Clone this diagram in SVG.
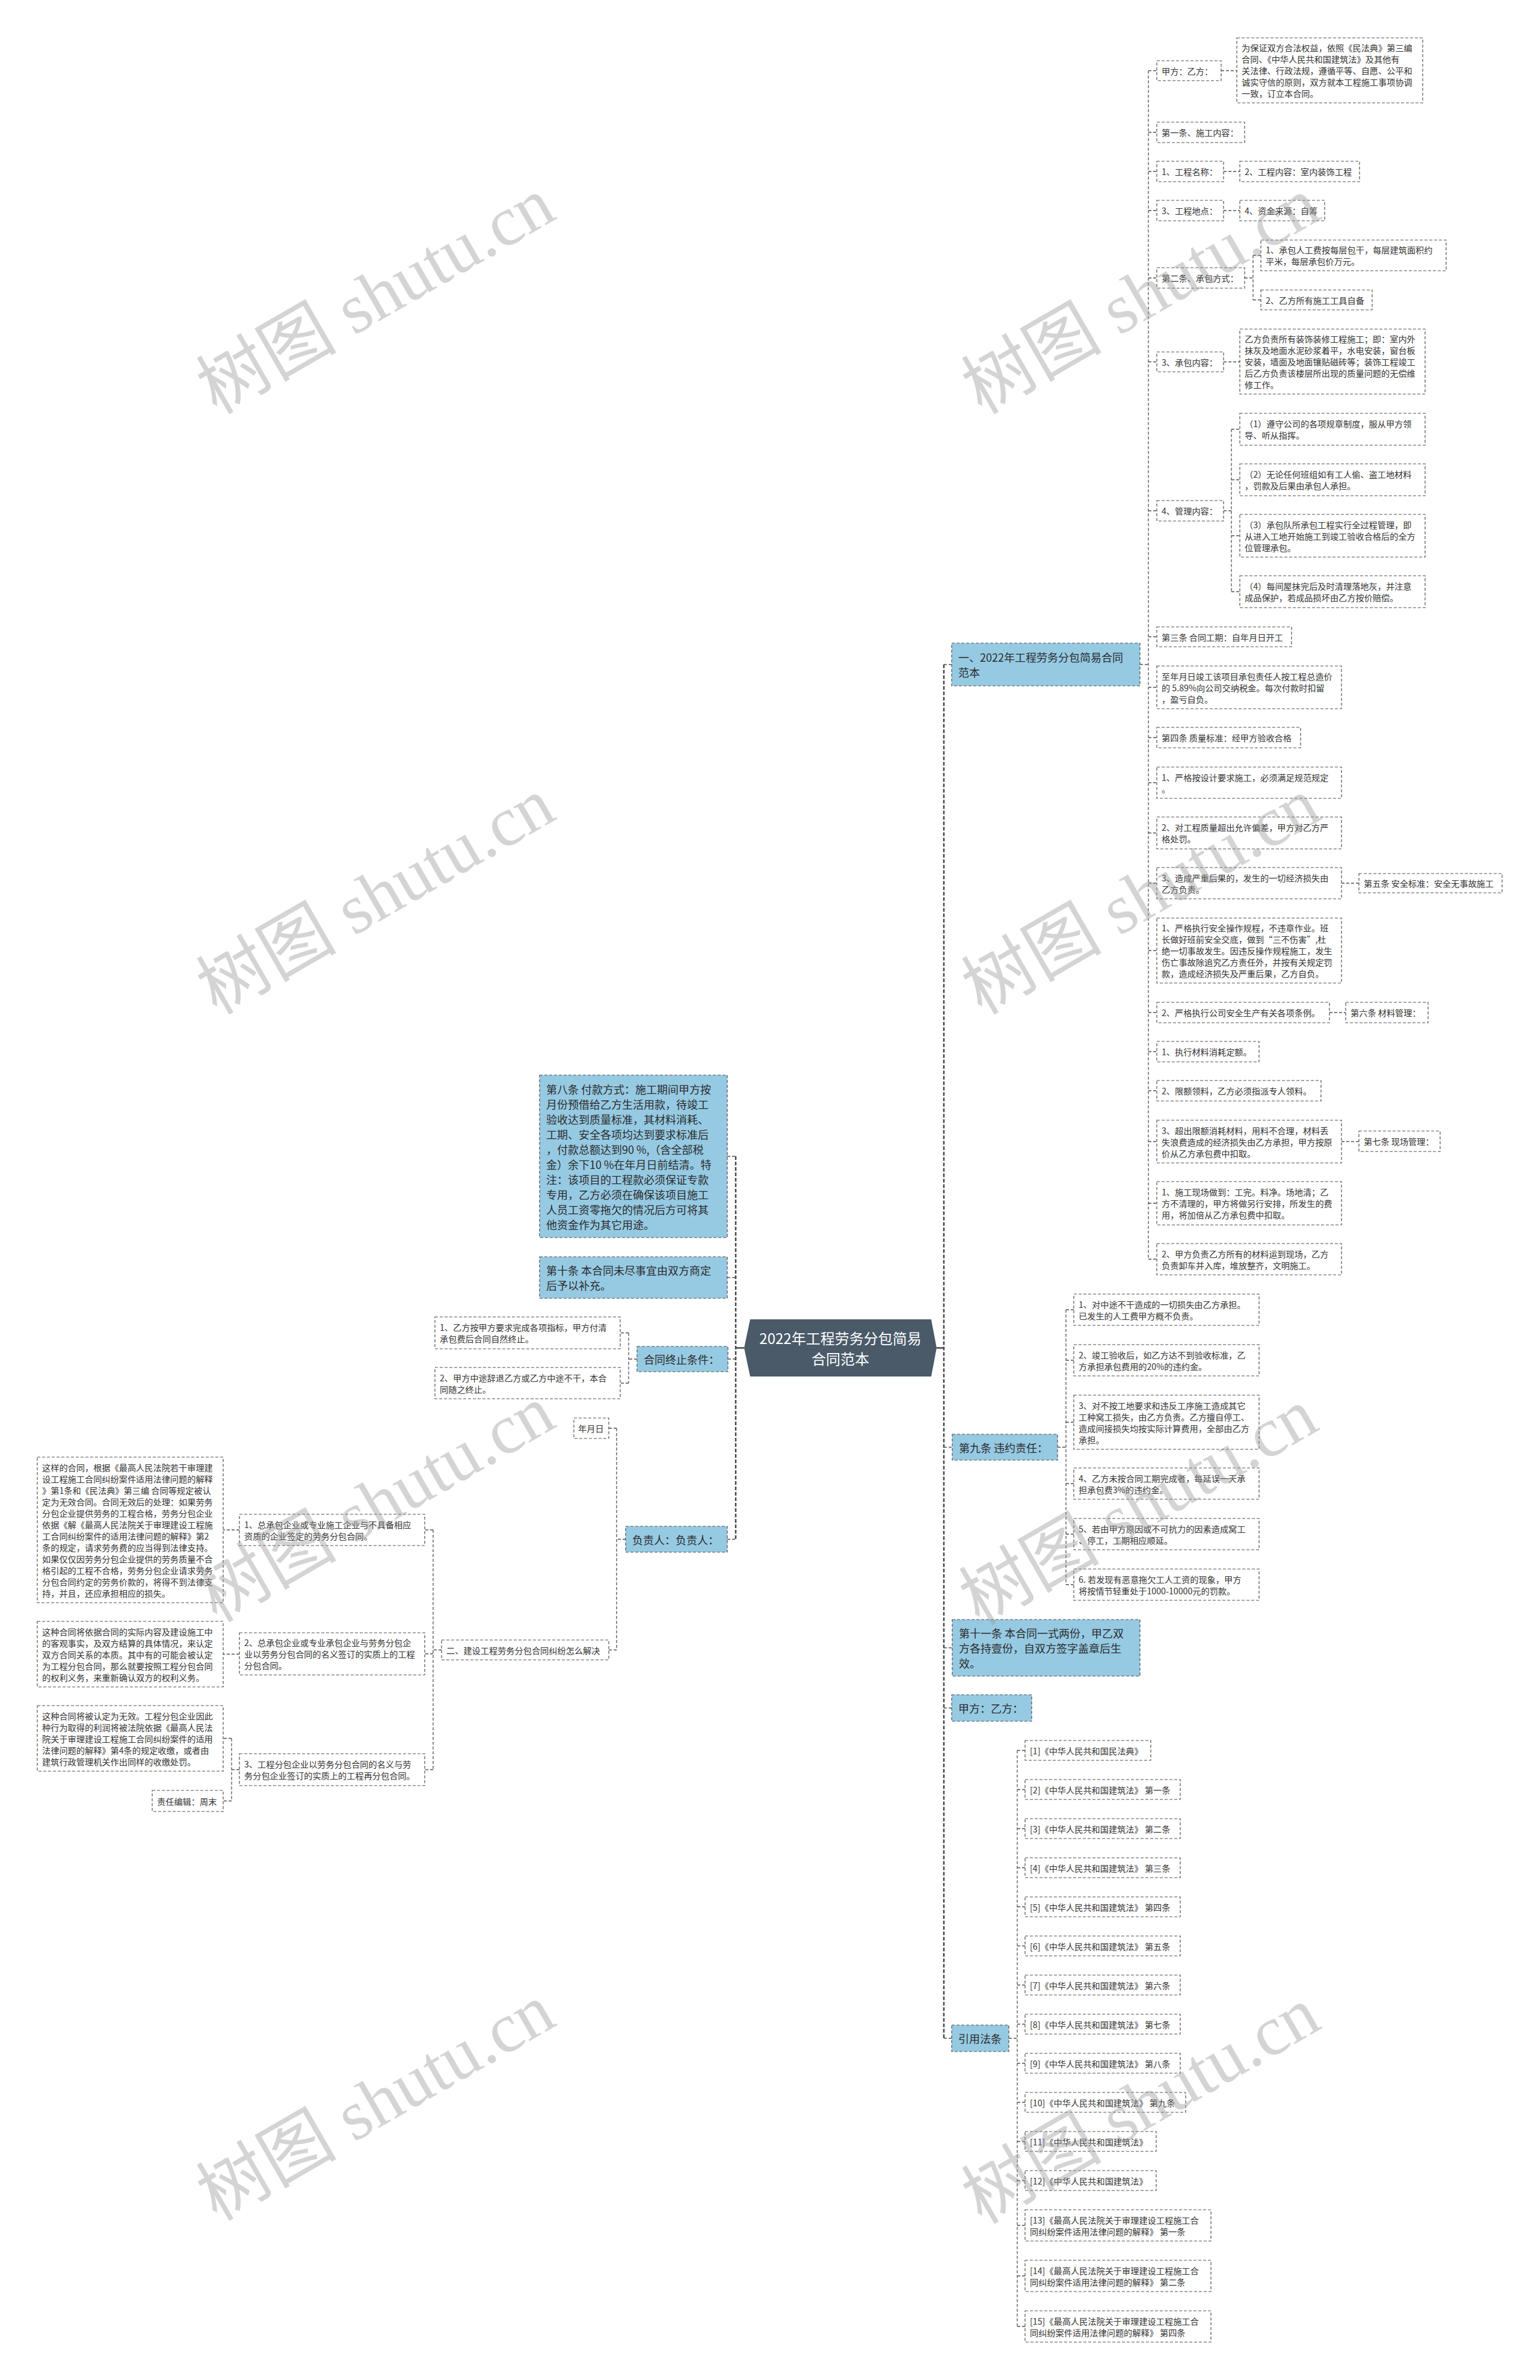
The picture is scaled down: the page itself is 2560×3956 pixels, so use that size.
<svg xmlns="http://www.w3.org/2000/svg" width="2560" height="3956" viewBox="0 0 2560 3956">
<style>
.n{fill:#fff;stroke:#505050;stroke-width:1.2;stroke-dasharray:5 3}
.b{fill:#96cae3;stroke:#505050;stroke-width:1.2;stroke-dasharray:5 3}
.t{font-family:"Noto Sans CJK SC","Liberation Sans",sans-serif;font-size:14.2px;fill:#333;dominant-baseline:central}
.tb{font-family:"Noto Sans CJK SC","Liberation Sans",sans-serif;font-size:18px;fill:#2b2b2b;dominant-baseline:central}
.tc{font-family:"Noto Sans CJK SC","Liberation Sans",sans-serif;font-size:24px;fill:#fff;dominant-baseline:central;text-anchor:middle}
.c{fill:none;stroke:#505050;stroke-width:1.3;stroke-dasharray:5 3}
.s{fill:none;stroke:#444;stroke-width:2.5;stroke-dasharray:6 3}
.solid{fill:none;stroke:#444;stroke-width:2.5}
.w{font-family:"Liberation Serif","Noto Sans CJK SC",serif;font-size:117px;fill:#9a9a9a;opacity:0.42}
</style>
<rect width="2560" height="3956" fill="#fff"/>

<g id="connectors">
<path class="c" d="M1909 117.5V2093"/>
<path class="c" d="M1895 1104.5H1909M1909 117.5H1923M1909 220H1923M1909 285H1923M1909 350H1923M1909 462H1923M1909 601.5H1923M1909 849H1923M1909 1058.5H1923M1909 1142.5H1923M1909 1226H1923M1909 1301H1923M1909 1384.5H1923M1909 1468H1923M1909 1580H1923M1909 1683H1923M1909 1748H1923M1909 1813H1923M1909 1897.5H1923M1909 2000H1923M1909 2093H1923"/>
<path class="c" d="M2030 117.5H2056M2034 285H2061M2034 350H2061M2034 601.5H2061"/>
<path class="c" d="M2069 462H2083M2083 424.5V498.5M2083 424.5H2096M2083 498.5H2096"/>
<path class="c" d="M2034 849H2047M2047 713.5V983.5M2047 713.5H2061M2047 797.5H2061M2047 890.5H2061M2047 983.5H2061"/>
<path class="c" d="M2230 1468H2259M2210 1683H2237M2230 1897.5H2259"/>
<path class="s" d="M1569 1104.5V3388"/>
<path class="c" d="M1569 1104.5H1582M1569 2405.5H1583M1569 2739H1583M1569 2839H1582M1569 3388H1582"/>
<path class="solid" d="M1557 2240.5H1569"/>
<path class="c" d="M1758 2405.5H1772M1772 2177V2634M1772 2177H1785M1772 2261H1785M1772 2364H1785M1772 2466H1785M1772 2550H1785M1772 2634H1785"/>
<path class="c" d="M1677 3388H1691M1691 2909.5V3867M1691 2909.5H1704M1691 2974.5H1704M1691 3039.5H1704M1691 3104.5H1704M1691 3169.5H1704M1691 3234.5H1704M1691 3299.5H1704M1691 3364.5H1704M1691 3429.5H1704M1691 3494.5H1704M1691 3559.5H1704M1691 3624.5H1704M1691 3699H1704M1691 3783H1704M1691 3867H1704"/>
<path class="s" d="M1223 1922V2558.5"/>
<path class="c" d="M1209 1922H1223M1209 2123.5H1223M1210 2259H1223M1209 2558.5H1223"/>
<path class="solid" d="M1237 2240.5H1223"/>
<path class="c" d="M1059 2259H1045M1045 2215.5V2299M1045 2215.5H1031M1045 2299H1031"/>
<path class="c" d="M1040 2558.5H1025M1025 2374V2742.5M1025 2374H1012M1025 2742.5H1012"/>
<path class="c" d="M734 2742.5H720M720 2543V2941.5M720 2543H706M720 2749H706M720 2941.5H706"/>
<path class="c" d="M398 2543H371M398 2749.5H371"/>
<path class="c" d="M398 2941.5H385M385 2889.5V2993.5M385 2889.5H371M385 2993.5H371"/>
</g>

<g id="center">
<polygon points="1247,2193 1548,2193 1557,2240.5 1548,2288 1247,2288 1237,2240.5" fill="#4a5a69"/>
<text class="tc" x="1397" y="2223.5">2022年工程劳务分包简易</text>
<text class="tc" x="1397" y="2257.5">合同范本</text>
</g>

<g id="b1"><rect class="b" x="1582" y="1069" width="313" height="71"/>
<text class="tb" x="1593" y="1092">一、2022年工程劳务分包简易合同</text><text class="tb" x="1593" y="1117">范本</text></g>

<g id="n_a"><rect class="n" x="1923" y="101" width="107" height="33"/><text class="t" x="1931" y="117.5">甲方：乙方：</text></g>
<g id="n_b"><rect class="n" x="2056" y="63" width="309" height="108"/>
<text class="t" x="2064" y="79">为保证双方合法权益，依照《民法典》第三编</text>
<text class="t" x="2064" y="98"> 合同、《中华人民共和国建筑法》及其他有</text>
<text class="t" x="2064" y="117">关法律、行政法规，遵循平等、自愿、公平和</text>
<text class="t" x="2064" y="136">诚实守信的原则，双方就本工程施工事项协调</text>
<text class="t" x="2064" y="155">一致，订立本合同。</text></g>
<g id="n_c"><rect class="n" x="1923" y="203" width="146" height="34"/><text class="t" x="1931" y="220">第一条、施工内容：</text></g>
<g id="n_d"><rect class="n" x="1923" y="268" width="111" height="34"/><text class="t" x="1931" y="285">1、工程名称：</text></g>
<g id="n_e"><rect class="n" x="2061" y="268" width="199" height="34"/><text class="t" x="2069" y="285">2、工程内容：室内装饰工程</text></g>
<g id="n_f"><rect class="n" x="1923" y="333" width="111" height="34"/><text class="t" x="1931" y="350">3、工程地点：</text></g>
<g id="n_g"><rect class="n" x="2061" y="333" width="141" height="34"/><text class="t" x="2069" y="350">4、资金来源：自筹</text></g>
<g id="n_h"><rect class="n" x="1923" y="445" width="146" height="34"/><text class="t" x="1931" y="462">第二条、承包方式：</text></g>
<g id="n_i"><rect class="n" x="2096" y="399" width="308" height="51"/>
<text class="t" x="2104" y="415">1、承包人工费按每层包干，每层建筑面积约</text><text class="t" x="2104" y="434">平米，每层承包价万元。</text></g>
<g id="n_j"><rect class="n" x="2096" y="482" width="185" height="33"/><text class="t" x="2104" y="498.5">2、乙方所有施工工具自备</text></g>
<g id="n_k"><rect class="n" x="1923" y="585" width="111" height="33"/><text class="t" x="1931" y="601.5">3、承包内容：</text></g>
<g id="n_l"><rect class="n" x="2061" y="547" width="308" height="108"/>
<text class="t" x="2069" y="563">乙方负责所有装饰装修工程施工；即：室内外</text>
<text class="t" x="2069" y="582">抹灰及地面水泥砂浆着平，水电安装，窗台板</text>
<text class="t" x="2069" y="601">安装，墙面及地面镶贴磁砖等；装饰工程竣工</text>
<text class="t" x="2069" y="620">后乙方负责该楼层所出现的质量问题的无偿维</text>
<text class="t" x="2069" y="639">修工作。</text></g>
<g id="n_m"><rect class="n" x="1923" y="832" width="111" height="34"/><text class="t" x="1931" y="849">4、管理内容：</text></g>
<g id="n_n1"><rect class="n" x="2061" y="687" width="308" height="53"/>
<text class="t" x="2069" y="704">（1）遵守公司的各项规章制度，服从甲方领</text><text class="t" x="2069" y="723">导、听从指挥。</text></g>
<g id="n_n2"><rect class="n" x="2061" y="771" width="308" height="53"/>
<text class="t" x="2069" y="788">（2）无论任何班组如有工人偷、盗工地材料</text><text class="t" x="2069" y="807">，罚款及后果由承包人承担。</text></g>
<g id="n_n3"><rect class="n" x="2061" y="855" width="308" height="71"/>
<text class="t" x="2069" y="871.5">（3）承包队所承包工程实行全过程管理，即</text><text class="t" x="2069" y="890.5">从进入工地开始施工到竣工验收合格后的全方</text><text class="t" x="2069" y="909.5">位管理承包。</text></g>
<g id="n_n4"><rect class="n" x="2061" y="957" width="308" height="53"/>
<text class="t" x="2069" y="974">（4）每间屋抹完后及时清理落地灰，并注意</text><text class="t" x="2069" y="993">成品保护，若成品损坏由乙方按价赔偿。</text></g>
<g id="n_o"><rect class="n" x="1923" y="1042" width="224" height="33"/><text class="t" x="1931" y="1058.5">第三条 合同工期：自年月日开工</text></g>
<g id="n_p"><rect class="n" x="1923" y="1107" width="307" height="71"/>
<text class="t" x="1931" y="1123.5">至年月日竣工该项目承包责任人按工程总造价</text><text class="t" x="1931" y="1142.5">的 5.89%向公司交纳税金。每次付款时扣留</text><text class="t" x="1931" y="1161.5">，盈亏自负。</text></g>
<g id="n_q"><rect class="n" x="1923" y="1209" width="239" height="34"/><text class="t" x="1931" y="1226">第四条 质量标准：经甲方验收合格</text></g>
<g id="n_r"><rect class="n" x="1923" y="1275" width="307" height="52"/>
<text class="t" x="1931" y="1291.5">1、严格按设计要求施工，必须满足规范规定</text><text class="t" x="1931" y="1310.5">。</text></g>
<g id="n_s"><rect class="n" x="1923" y="1358" width="307" height="53"/>
<text class="t" x="1931" y="1375">2、对工程质量超出允许偏差，甲方对乙方严</text><text class="t" x="1931" y="1394">格处罚。</text></g>
<g id="n_t"><rect class="n" x="1923" y="1442" width="307" height="52"/>
<text class="t" x="1931" y="1458.5">3、造成严重后果的，发生的一切经济损失由</text><text class="t" x="1931" y="1477.5">乙方负责。</text></g>
<g id="n_u"><rect class="n" x="2259" y="1452" width="238" height="32"/><text class="t" x="2267" y="1468">第五条 安全标准：安全无事故施工</text></g>
<g id="n_v"><rect class="n" x="1923" y="1526" width="307" height="108"/>
<text class="t" x="1931" y="1542">1、严格执行安全操作规程，不违章作业。班</text>
<text class="t" x="1931" y="1561">长做好班前安全交底，做到“三不伤害”,杜</text>
<text class="t" x="1931" y="1580">绝一切事故发生。因违反操作规程施工，发生</text>
<text class="t" x="1931" y="1599">伤亡事故除追究乙方责任外，并按有关规定罚</text>
<text class="t" x="1931" y="1618">款，造成经济损失及严重后果，乙方自负。</text></g>
<g id="n_w"><rect class="n" x="1923" y="1666" width="287" height="34"/><text class="t" x="1931" y="1683">2、严格执行公司安全生产有关各项条例。</text></g>
<g id="n_x"><rect class="n" x="2237" y="1666" width="137" height="34"/><text class="t" x="2245" y="1683">第六条 材料管理：</text></g>
<g id="n_y"><rect class="n" x="1923" y="1731" width="170" height="34"/><text class="t" x="1931" y="1748">1、执行材料消耗定额。</text></g>
<g id="n_z"><rect class="n" x="1923" y="1796" width="273" height="34"/><text class="t" x="1931" y="1813">2、限额领料，乙方必须指派专人领料。</text></g>
<g id="n_aa"><rect class="n" x="1923" y="1862" width="307" height="71"/>
<text class="t" x="1931" y="1878.5">3、超出限额消耗材料，用料不合理，材料丢</text><text class="t" x="1931" y="1897.5">失浪费造成的经济损失由乙方承担，甲方按原</text><text class="t" x="1931" y="1916.5">价从乙方承包费中扣取。</text></g>
<g id="n_ab"><rect class="n" x="2259" y="1880" width="135" height="34"/><text class="t" x="2267" y="1897">第七条 现场管理：</text></g>
<g id="n_ac"><rect class="n" x="1923" y="1964" width="307" height="72"/>
<text class="t" x="1931" y="1981">1、施工现场做到：工完。料净。场地清；乙</text><text class="t" x="1931" y="2000">方不清理的，甲方将做另行安排，所发生的费</text><text class="t" x="1931" y="2019">用，将加倍从乙方承包费中扣取。</text></g>
<g id="n_ad"><rect class="n" x="1923" y="2067" width="307" height="52"/>
<text class="t" x="1931" y="2083.5">2、甲方负责乙方所有的材料运到现场，乙方</text><text class="t" x="1931" y="2102.5">负责卸车并入库，堆放整齐，文明施工。</text></g>

<g id="b9"><rect class="b" x="1583" y="2384" width="175" height="43"/><text class="tb" x="1594" y="2405.5">第九条 违约责任：</text></g>
<g id="v1"><rect class="n" x="1785" y="2151" width="308" height="52"/>
<text class="t" x="1793" y="2167.5">1、对中途不干造成的一切损失由乙方承担。</text><text class="t" x="1793" y="2186.5">已发生的人工费甲方概不负责。</text></g>
<g id="v2"><rect class="n" x="1785" y="2235" width="308" height="52"/>
<text class="t" x="1793" y="2251.5">2、竣工验收后，如乙方达不到验收标准，乙</text><text class="t" x="1793" y="2270.5">方承担承包费用的20%的违约金。</text></g>
<g id="v3"><rect class="n" x="1785" y="2319" width="308" height="90"/>
<text class="t" x="1793" y="2335.5">3、对不按工地要求和违反工序施工造成其它</text><text class="t" x="1793" y="2354.5">工种窝工损失，由乙方负责。乙方擅自停工、</text><text class="t" x="1793" y="2373.5">造成间接损失均按实际计算费用，全部由乙方</text><text class="t" x="1793" y="2392.5">承担。</text></g>
<g id="v4"><rect class="n" x="1785" y="2440" width="308" height="52"/>
<text class="t" x="1793" y="2456.5">4、乙方未按合同工期完成者，每延误一天承</text><text class="t" x="1793" y="2475.5">担承包费3%的违约金。</text></g>
<g id="v5"><rect class="n" x="1785" y="2524" width="308" height="52"/>
<text class="t" x="1793" y="2540.5">5、若由甲方原因或不可抗力的因素造成窝工</text><text class="t" x="1793" y="2559.5">、停工，工期相应顺延。</text></g>
<g id="v6"><rect class="n" x="1785" y="2608" width="308" height="52"/>
<text class="t" x="1793" y="2624.5">6. 若发现有恶意拖欠工人工资的现象，甲方</text><text class="t" x="1793" y="2643.5">将按情节轻重处于1000-10000元的罚款。</text></g>

<g id="b11"><rect class="b" x="1583" y="2692" width="312" height="94"/>
<text class="tb" x="1594" y="2714">第十一条 本合同一式两份，甲乙双</text><text class="tb" x="1594" y="2739">方各持壹份，自双方签字盖章后生</text><text class="tb" x="1594" y="2764">效。</text></g>
<g id="bjy"><rect class="b" x="1582" y="2817" width="133" height="44"/><text class="tb" x="1593" y="2839">甲方：乙方：</text></g>
<g id="blaw"><rect class="b" x="1582" y="3366" width="95" height="44"/><text class="tb" x="1593" y="3388">引用法条</text></g>

<g id="law1"><rect class="n" x="1704" y="2893" width="209" height="33"/><text class="t" x="1712" y="2909.5">[1]《中华人民共和国民法典》</text></g>
<g id="law2"><rect class="n" x="1704" y="2958" width="258" height="33"/><text class="t" x="1712" y="2974.5">[2]《中华人民共和国建筑法》 第一条</text></g>
<g id="law3"><rect class="n" x="1704" y="3023" width="258" height="33"/><text class="t" x="1712" y="3039.5">[3]《中华人民共和国建筑法》 第二条</text></g>
<g id="law4"><rect class="n" x="1704" y="3088" width="258" height="33"/><text class="t" x="1712" y="3104.5">[4]《中华人民共和国建筑法》 第三条</text></g>
<g id="law5"><rect class="n" x="1704" y="3153" width="258" height="33"/><text class="t" x="1712" y="3169.5">[5]《中华人民共和国建筑法》 第四条</text></g>
<g id="law6"><rect class="n" x="1704" y="3218" width="258" height="33"/><text class="t" x="1712" y="3234.5">[6]《中华人民共和国建筑法》 第五条</text></g>
<g id="law7"><rect class="n" x="1704" y="3283" width="258" height="33"/><text class="t" x="1712" y="3299.5">[7]《中华人民共和国建筑法》 第六条</text></g>
<g id="law8"><rect class="n" x="1704" y="3348" width="258" height="33"/><text class="t" x="1712" y="3364.5">[8]《中华人民共和国建筑法》 第七条</text></g>
<g id="law9"><rect class="n" x="1704" y="3413" width="258" height="33"/><text class="t" x="1712" y="3429.5">[9]《中华人民共和国建筑法》 第八条</text></g>
<g id="law10"><rect class="n" x="1704" y="3478" width="267" height="33"/><text class="t" x="1712" y="3494.5">[10]《中华人民共和国建筑法》 第九条</text></g>
<g id="law11"><rect class="n" x="1704" y="3543" width="218" height="33"/><text class="t" x="1712" y="3559.5">[11]《中华人民共和国建筑法》</text></g>
<g id="law12"><rect class="n" x="1704" y="3608" width="218" height="33"/><text class="t" x="1712" y="3624.5">[12]《中华人民共和国建筑法》</text></g>
<g id="law13"><rect class="n" x="1704" y="3673" width="309" height="52"/>
<text class="t" x="1712" y="3689.5">[13]《最高人民法院关于审理建设工程施工合</text><text class="t" x="1712" y="3708.5">同纠纷案件适用法律问题的解释》 第一条</text></g>
<g id="law14"><rect class="n" x="1704" y="3757" width="309" height="52"/>
<text class="t" x="1712" y="3773.5">[14]《最高人民法院关于审理建设工程施工合</text><text class="t" x="1712" y="3792.5">同纠纷案件适用法律问题的解释》 第二条</text></g>
<g id="law15"><rect class="n" x="1704" y="3841" width="309" height="52"/>
<text class="t" x="1712" y="3857.5">[15]《最高人民法院关于审理建设工程施工合</text><text class="t" x="1712" y="3876.5">同纠纷案件适用法律问题的解释》 第四条</text></g>

<g id="b8"><rect class="b" x="897" y="1787" width="312" height="270"/>
<text class="tb" x="908" y="1809.5">第八条 付款方式：施工期间甲方按</text>
<text class="tb" x="908" y="1834.5">月份预借给乙方生活用款，待竣工</text>
<text class="tb" x="908" y="1859.5">验收达到质量标准，其材料消耗、</text>
<text class="tb" x="908" y="1884.5">工期、安全各项均达到要求标准后</text>
<text class="tb" x="908" y="1909.5">，付款总额达到90 %,（含全部税</text>
<text class="tb" x="908" y="1934.5">金）余下10 %在年月日前结清。特</text>
<text class="tb" x="908" y="1959.5">注：该项目的工程款必须保证专款</text>
<text class="tb" x="908" y="1984.5">专用，乙方必须在确保该项目施工</text>
<text class="tb" x="908" y="2009.5">人员工资零拖欠的情况后方可将其</text>
<text class="tb" x="908" y="2034.5">他资金作为其它用途。</text></g>
<g id="b10"><rect class="b" x="897" y="2089" width="312" height="69"/>
<text class="tb" x="908" y="2111">第十条 本合同未尽事宜由双方商定</text><text class="tb" x="908" y="2136">后予以补充。</text></g>
<g id="bstop"><rect class="b" x="1059" y="2238" width="151" height="42"/><text class="tb" x="1070" y="2259">合同终止条件：</text></g>
<g id="s1"><rect class="n" x="723" y="2189" width="308" height="53"/>
<text class="t" x="731" y="2206">1、乙方按甲方要求完成各项指标，甲方付清</text><text class="t" x="731" y="2225">承包费后合同自然终止。</text></g>
<g id="s2"><rect class="n" x="723" y="2273" width="308" height="52"/>
<text class="t" x="731" y="2289.5">2、甲方中途辞退乙方或乙方中途不干，本合</text><text class="t" x="731" y="2308.5">同随之终止。</text></g>
<g id="bfz"><rect class="b" x="1040" y="2537" width="169" height="43"/><text class="tb" x="1051" y="2558.5">负责人：负责人：</text></g>
<g id="ymd"><rect class="n" x="954" y="2357" width="58" height="34"/><text class="t" x="961" y="2374">年月日</text></g>
<g id="two"><rect class="n" x="734" y="2726" width="278" height="33"/><text class="t" x="742" y="2742.5">二、建设工程劳务分包合同纠纷怎么解决</text></g>
<g id="k1"><rect class="n" x="398" y="2517" width="308" height="52"/>
<text class="t" x="406" y="2533.5">1、总承包企业或专业施工企业与不具备相应</text><text class="t" x="406" y="2552.5">资质的企业签定的劳务分包合同。</text></g>
<g id="k2"><rect class="n" x="398" y="2714" width="308" height="70"/>
<text class="t" x="406" y="2730">2、总承包企业或专业承包企业与劳务分包企</text><text class="t" x="406" y="2749">业以劳务分包合同的名义签订的实质上的工程</text><text class="t" x="406" y="2768">分包合同。</text></g>
<g id="k3"><rect class="n" x="398" y="2915" width="308" height="53"/>
<text class="t" x="406" y="2932">3、工程分包企业以劳务分包合同的名义与劳</text><text class="t" x="406" y="2951">务分包企业签订的实质上的工程再分包合同。</text></g>
<g id="e1"><rect class="n" x="62" y="2422" width="309" height="242"/>
<text class="t" x="70" y="2438.5">这样的合同，根据《最高人民法院若干审理建</text>
<text class="t" x="70" y="2457.5">设工程施工合同纠纷案件适用法律问题的解释</text>
<text class="t" x="70" y="2476.5">》第1条和《民法典》第三编 合同等规定被认</text>
<text class="t" x="70" y="2495.5">定为无效合同。合同无效后的处理：如果劳务</text>
<text class="t" x="70" y="2514.5">分包企业提供劳务的工程合格，劳务分包企业</text>
<text class="t" x="70" y="2533.5">依据《解《最高人民法院关于审理建设工程施</text>
<text class="t" x="70" y="2552.5">工合同纠纷案件的适用法律问题的解释》第2</text>
<text class="t" x="70" y="2571.5">条的规定，请求劳务费的应当得到法律支持。</text>
<text class="t" x="70" y="2590.5">如果仅仅因劳务分包企业提供的劳务质量不合</text>
<text class="t" x="70" y="2609.5">格引起的工程不合格，劳务分包企业请求劳务</text>
<text class="t" x="70" y="2628.5">分包合同约定的劳务价款的，将得不到法律支</text>
<text class="t" x="70" y="2647.5">持，并且，还应承担相应的损失。</text></g>
<g id="e2"><rect class="n" x="62" y="2695" width="309" height="109"/>
<text class="t" x="70" y="2711.5">这种合同将依据合同的实际内容及建设施工中</text>
<text class="t" x="70" y="2730.5">的客观事实，及双方结算的具体情况，来认定</text>
<text class="t" x="70" y="2749.5">双方合同关系的本质。其中有的可能会被认定</text>
<text class="t" x="70" y="2768.5">为工程分包合同，那么就要按照工程分包合同</text>
<text class="t" x="70" y="2787.5">的权利义务，来重新确认双方的权利义务。</text></g>
<g id="e3"><rect class="n" x="62" y="2835" width="309" height="109"/>
<text class="t" x="70" y="2851.5">这种合同将被认定为无效。工程分包企业因此</text>
<text class="t" x="70" y="2870.5">种行为取得的利润将被法院依据《最高人民法</text>
<text class="t" x="70" y="2889.5">院关于审理建设工程施工合同纠纷案件的适用</text>
<text class="t" x="70" y="2908.5">法律问题的解释》第4条的规定收缴，或者由</text>
<text class="t" x="70" y="2927.5">建筑行政管理机关作出同样的收缴处罚。</text></g>
<g id="editor"><rect class="n" x="253" y="2976" width="118" height="35"/><text class="t" x="261" y="2993.5">责任编辑：周末</text></g>

<g id="watermark">
<text class="w" transform="translate(360 690) rotate(-30)">树图 shutu.cn</text>
<text class="w" transform="translate(1632 690) rotate(-30)">树图 shutu.cn</text>
<text class="w" transform="translate(360 1688) rotate(-30)">树图 shutu.cn</text>
<text class="w" transform="translate(1632 1688) rotate(-30)">树图 shutu.cn</text>
<text class="w" transform="translate(360 2698) rotate(-30)">树图 shutu.cn</text>
<text class="w" transform="translate(1628 2703) rotate(-30)">树图 shutu.cn</text>
<text class="w" transform="translate(360 3693) rotate(-30)">树图 shutu.cn</text>
<text class="w" transform="translate(1632 3698) rotate(-30)">树图 shutu.cn</text>
</g>
</svg>
